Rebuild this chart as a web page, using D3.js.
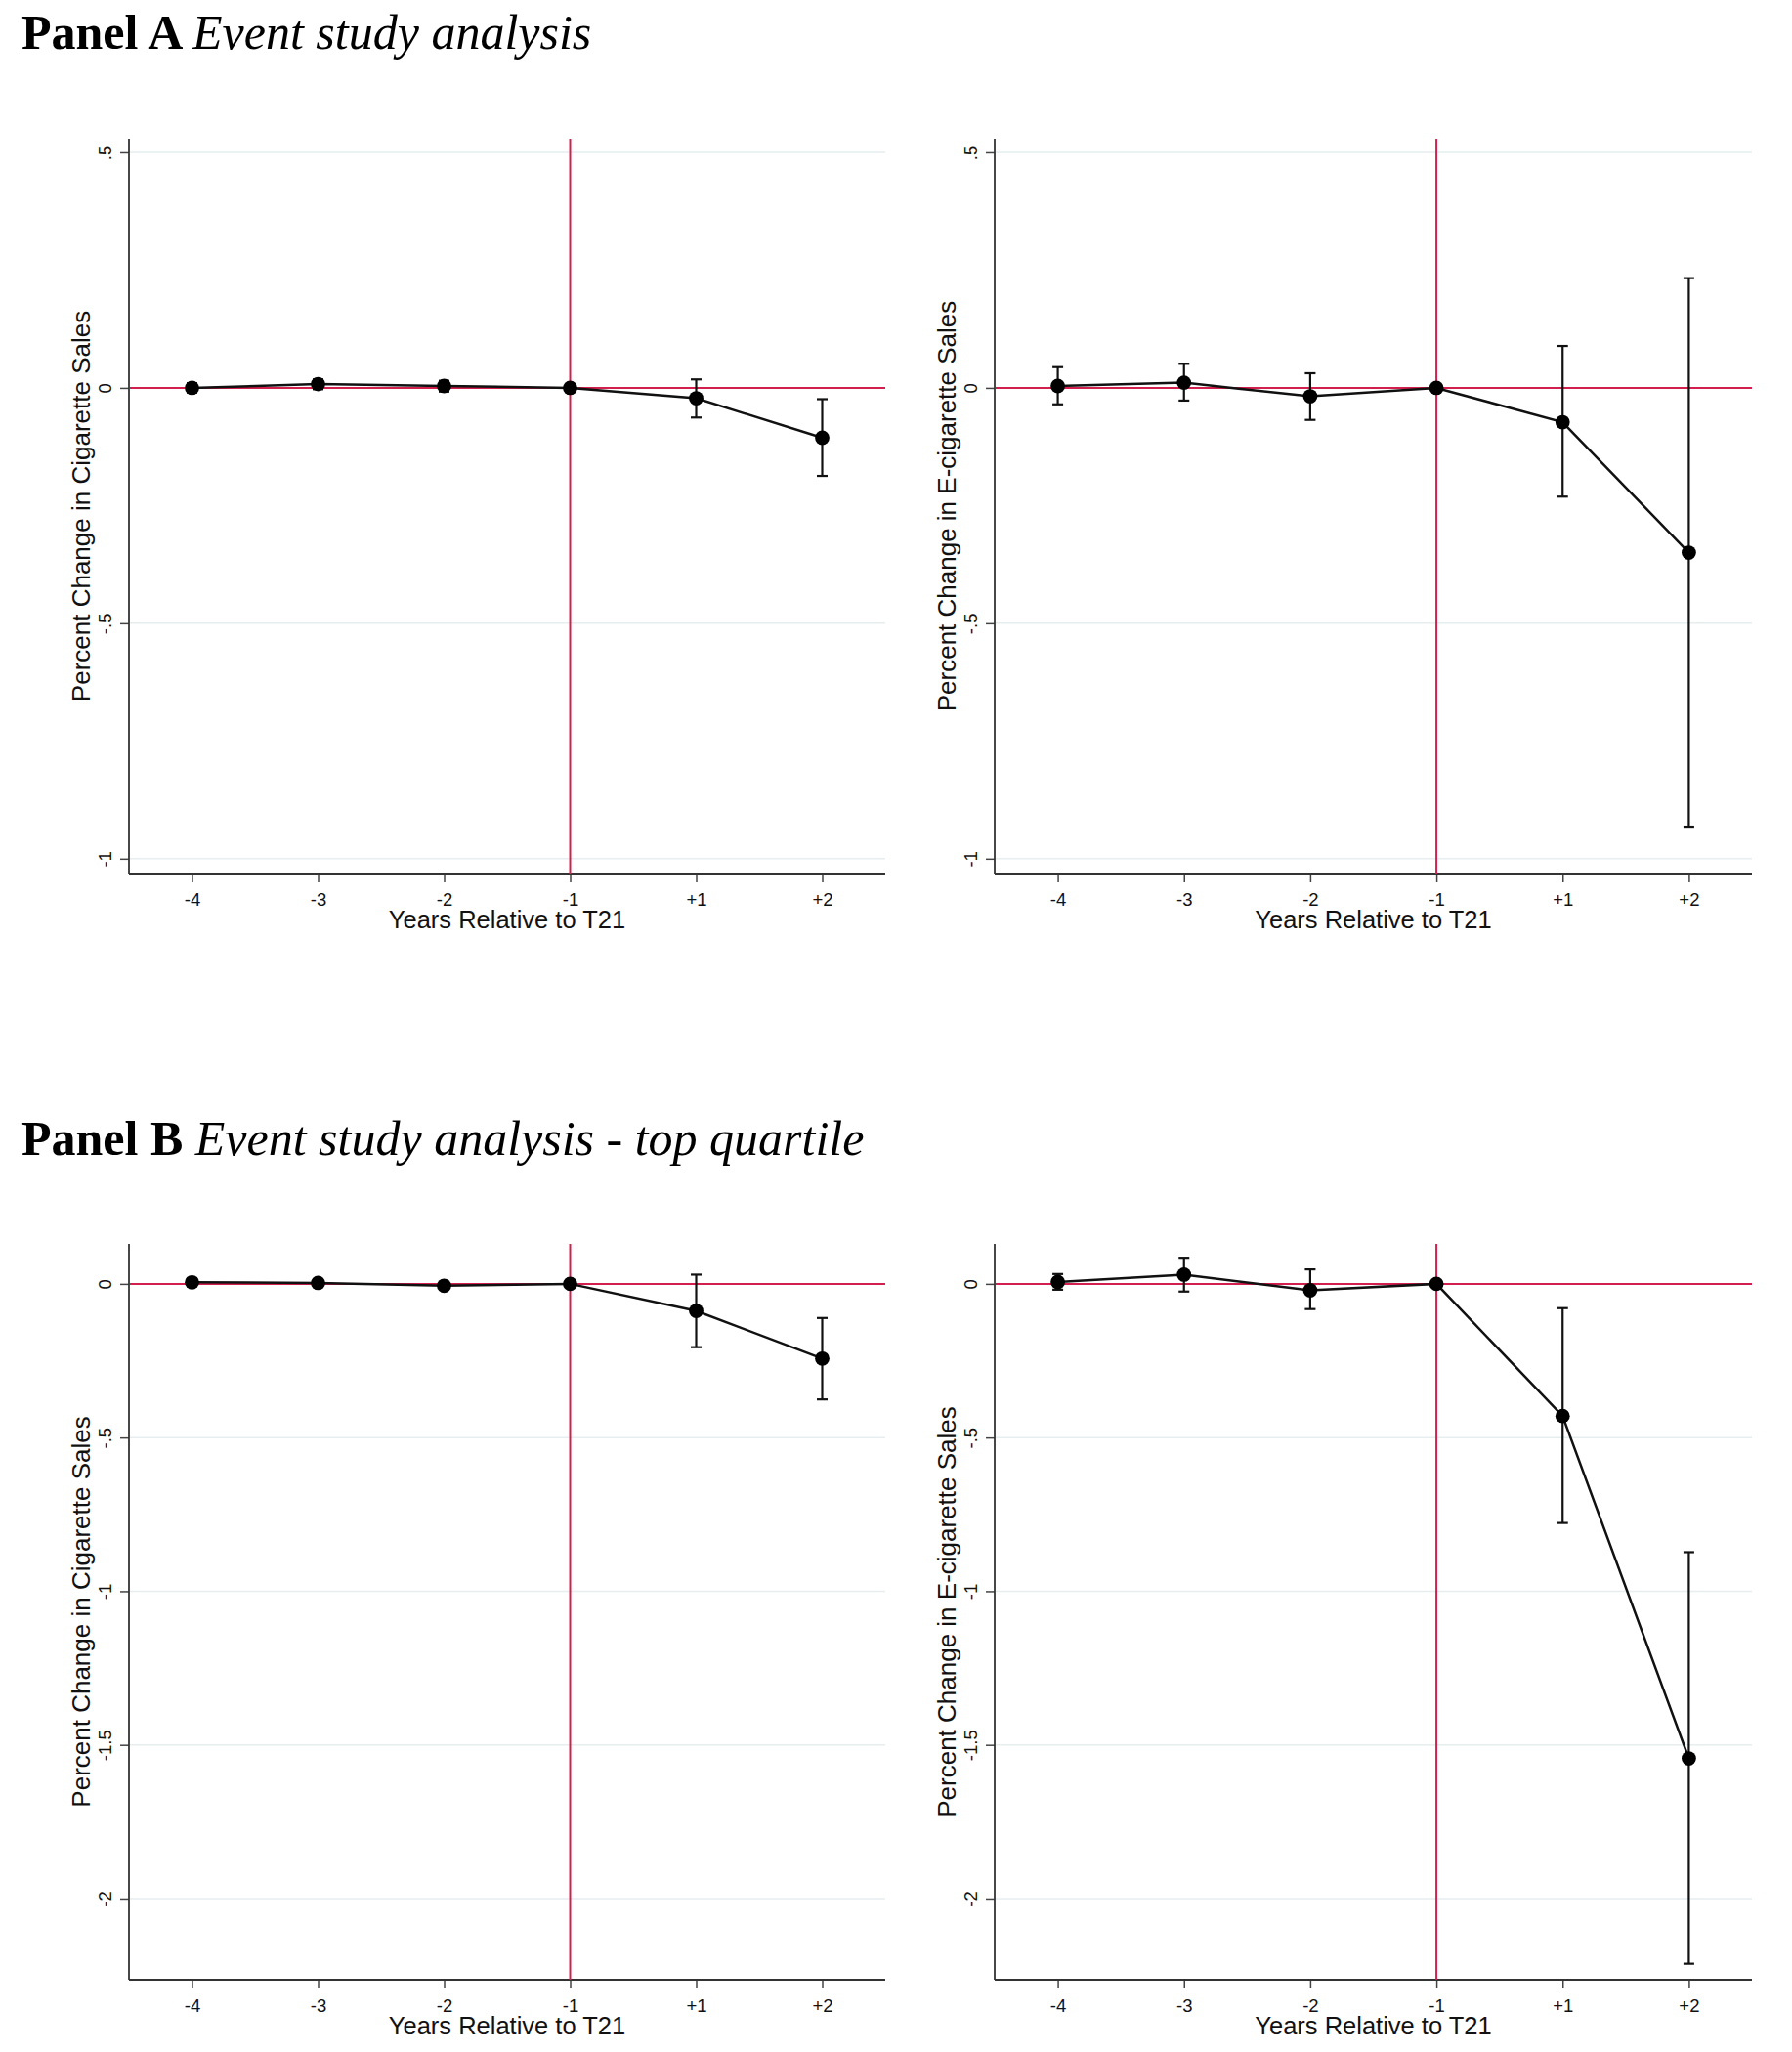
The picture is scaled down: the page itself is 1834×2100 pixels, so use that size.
<!DOCTYPE html>
<html>
<head>
<meta charset="utf-8">
<script src="https://cdn.jsdelivr.net/npm/d3@7"></script>
<style>
  body { margin: 0; background: #fff; }
  svg { display: block; }
</style>
</head>
<body>
<svg id="chart" width="1834" height="2100"></svg>
<script>
// periods relative to the T21 law (-1 is the reference year)
var periods = ["-4", "-3", "-2", "-1", "+1", "+2"];

// Panel A, cigarettes
var cigA   = [0.000, 0.008, 0.004, 0, -0.022, -0.106];
var cigALo = [-0.010, -0.003, -0.008, 0, -0.063, -0.187];
var cigAHi = [0.010, 0.018, 0.015, 0, 0.018, -0.024];

// Panel A, e-cigarettes
var ecigA   = [0.004, 0.011, -0.018, 0, -0.073, -0.350];
var ecigALo = [-0.035, -0.027, -0.068, 0, -0.231, -0.932];
var ecigAHi = [0.044, 0.051, 0.031, 0, 0.089, 0.233];

// Panel B (top quartile), cigarettes
var cigB   = [0.005, 0.003, -0.006, 0, -0.088, -0.243];
var cigBLo = [-0.008, -0.009, -0.018, 0, -0.206, -0.376];
var cigBHi = [0.018, 0.015, 0.006, 0, 0.030, -0.111];

// Panel B (top quartile), e-cigarettes
var ecigB   = [0.006, 0.030, -0.021, 0, -0.430, -1.544];
var ecigBLo = [-0.019, -0.025, -0.082, 0, -0.778, -2.212];
var ecigBHi = [0.032, 0.085, 0.047, 0, -0.079, -0.873];

var yTicksA = [0.5, 0, -0.5, -1];
var yTicksB = [0, -0.5, -1, -1.5, -2];

var xLabel = "Years Relative to T21";
var yLabelCig = "Percent Change in Cigarette Sales";
var yLabelEcig = "Percent Change in E-cigarette Sales";

var svg = d3.select("#chart");
var red = "#d21f4d";
var sans = "'Liberation Sans', Arial, sans-serif";
var serif = "'Liberation Serif', 'Times New Roman', serif";

// stata style labels: .5, -.5
function fmt(d) {
    if (d === 0) return "0";
    return String(d).replace("0.", ".");
}

function title(y, bold, ital) {
    var t = svg.append("text")
        .attr("x", 22)
        .attr("y", y)
        .style("font-family", serif)
        .style("font-size", "50px")
        .style("fill", "#000");
    t.append("tspan").style("font-weight", "bold").text(bold + " ");
    t.append("tspan").style("font-style", "italic").text(ital);
}

function drawPanel(p) {
    var g = svg.append("g");
    var x = d3.scaleLinear().domain([-0.5, 5.5]).range([p.left, p.right]);
    var y = d3.scaleLinear().domain(p.yDomain).range([p.bottom, p.top]);

    // gridlines
    g.selectAll(".grid").data(p.yTicks).enter().append("line")
        .attr("x1", p.left).attr("x2", p.right)
        .attr("y1", function (d) { return y(d); })
        .attr("y2", function (d) { return y(d); })
        .style("stroke", "#e6eef0")
        .style("stroke-width", 1.5);

    // y axis
    var ya = g.append("g")
        .attr("transform", "translate(" + p.left + ",0)")
        .call(d3.axisLeft(y).tickValues(p.yTicks).tickFormat(fmt).tickSize(9).tickSizeOuter(0));
    ya.select(".domain").remove();
    ya.selectAll(".tick line").style("stroke", "#444").style("stroke-width", 1.5);
    ya.selectAll(".tick text")
        .attr("x", null).attr("dy", null)
        .attr("transform", "translate(-25,0) rotate(-90)")
        .attr("text-anchor", "middle")
        .attr("dominant-baseline", "central")
        .style("font-family", sans)
        .style("font-size", "18.5px")
        .style("fill", "#111");
    g.append("line")
        .attr("x1", p.left).attr("x2", p.left)
        .attr("y1", p.top).attr("y2", p.bottom)
        .style("stroke", "#333").style("stroke-width", 1.8);

    // x axis
    var xa = g.append("g")
        .attr("transform", "translate(0," + p.bottom + ")")
        .call(d3.axisBottom(x).tickValues(d3.range(periods.length))
            .tickFormat(function (i) { return periods[i]; })
            .tickSize(9).tickSizeOuter(0));
    xa.select(".domain").remove();
    xa.selectAll(".tick line").style("stroke", "#444").style("stroke-width", 1.5);
    xa.selectAll(".tick text")
        .attr("y", 20)
        .style("font-family", sans)
        .style("font-size", "18.5px")
        .style("fill", "#111");
    g.append("line")
        .attr("x1", p.left).attr("x2", p.right)
        .attr("y1", p.bottom).attr("y2", p.bottom)
        .style("stroke", "#333").style("stroke-width", 1.8);

    // reference lines
    g.append("line")
        .attr("x1", p.left + 1).attr("x2", p.right)
        .attr("y1", y(0)).attr("y2", y(0))
        .style("stroke", red).style("stroke-width", 2);
    g.append("line")
        .attr("x1", x(3)).attr("x2", x(3))
        .attr("y1", p.top).attr("y2", p.bottom)
        .style("stroke", red).style("stroke-width", 2);

    // error bars (skip the reference year)
    var idx = d3.range(periods.length).filter(function (i) { return p.lo[i] !== p.hi[i]; });
    var eb = g.selectAll(".eb").data(idx).enter().append("g");
    eb.append("line")
        .attr("x1", function (i) { return x(i); })
        .attr("x2", function (i) { return x(i); })
        .attr("y1", function (i) { return y(p.lo[i]); })
        .attr("y2", function (i) { return y(p.hi[i]); })
        .style("stroke", "#111").style("stroke-width", 2.2);
    [p.lo, p.hi].forEach(function (arr) {
        eb.append("line")
            .attr("x1", function (i) { return x(i) - 5.5; })
            .attr("x2", function (i) { return x(i) + 5.5; })
            .attr("y1", function (i) { return y(arr[i]); })
            .attr("y2", function (i) { return y(arr[i]); })
            .style("stroke", "#111").style("stroke-width", 2.2);
    });

    // connected estimates
    var line = d3.line()
        .x(function (d, i) { return x(i); })
        .y(function (d) { return y(d); });
    g.append("path")
        .attr("d", line(p.est))
        .style("fill", "none")
        .style("stroke", "#111")
        .style("stroke-width", 2.5);
    g.selectAll(".pt").data(p.est).enter().append("circle")
        .attr("cx", function (d, i) { return x(i); })
        .attr("cy", function (d) { return y(d); })
        .attr("r", 7.4)
        .style("fill", "#000");

    // axis titles
    g.append("text")
        .attr("x", (p.left + p.right) / 2)
        .attr("y", p.bottom + 56)
        .attr("text-anchor", "middle")
        .style("font-family", sans)
        .style("font-size", "25.5px")
        .style("fill", "#111")
        .text(xLabel);
    g.append("text")
        .attr("transform", "translate(" + (p.left - 40) + "," + ((p.top + p.bottom) / 2) + ") rotate(-90)")
        .attr("text-anchor", "middle")
        .style("font-family", sans)
        .style("font-size", "26px")
        .style("fill", "#111")
        .text(p.yLabel);
}

title(50, "Panel A", "Event study analysis");
title(1182, "Panel B", "Event study analysis - top quartile");

var topA = 142, botA = 894, topB = 1273, botB = 2026;
var leftPlot = [132, 906], rightPlot = [1018, 1793];

drawPanel({ left: leftPlot[0], right: leftPlot[1], top: topA, bottom: botA,
    yDomain: [-1.0315, 0.529], yTicks: yTicksA, est: cigA, lo: cigALo, hi: cigAHi, yLabel: yLabelCig });
drawPanel({ left: rightPlot[0], right: rightPlot[1], top: topA, bottom: botA,
    yDomain: [-1.0315, 0.529], yTicks: yTicksA, est: ecigA, lo: ecigALo, hi: ecigAHi, yLabel: yLabelEcig });
drawPanel({ left: leftPlot[0], right: leftPlot[1], top: topB, bottom: botB,
    yDomain: [-2.264, 0.130], yTicks: yTicksB, est: cigB, lo: cigBLo, hi: cigBHi, yLabel: yLabelCig });
drawPanel({ left: rightPlot[0], right: rightPlot[1], top: topB, bottom: botB,
    yDomain: [-2.264, 0.130], yTicks: yTicksB, est: ecigB, lo: ecigBLo, hi: ecigBHi, yLabel: yLabelEcig });
</script>
</body>
</html>
